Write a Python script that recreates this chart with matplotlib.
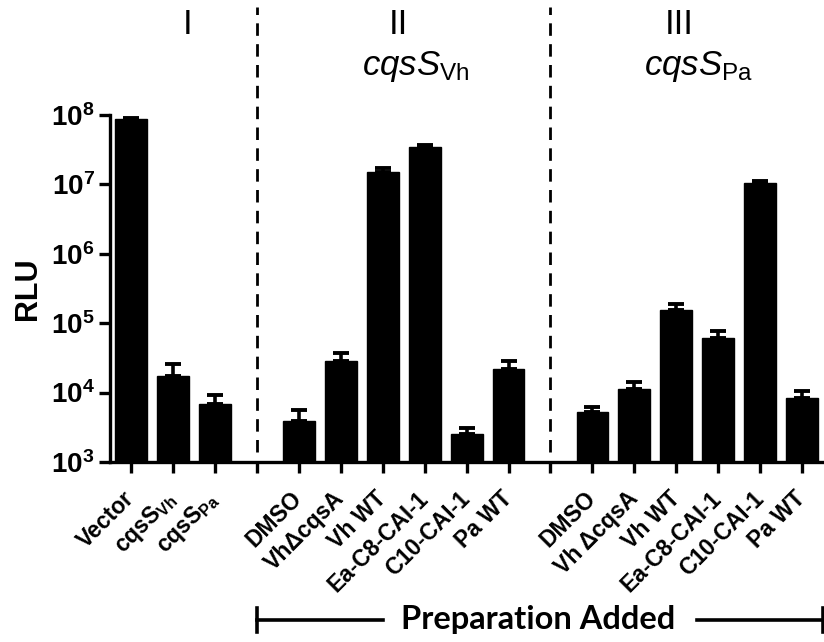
import numpy as np
import matplotlib
matplotlib.use("Agg")
import matplotlib.pyplot as plt
from matplotlib.transforms import blended_transform_factory

plt.rcParams['font.family'] = ['Liberation Sans', 'DejaVu Sans']
plt.rcParams['mathtext.fontset'] = 'custom'
plt.rcParams['mathtext.rm'] = 'Liberation Sans'
plt.rcParams['mathtext.it'] = 'Liberation Sans:italic'
plt.rcParams['mathtext.bf'] = 'Liberation Sans:bold'

# data
labels_I = ['Vector', r'cqsS$_{\mathbf{Vh}}$', r'cqsS$_{\mathbf{Pa}}$']
labels_II = ['DMSO', 'Vh\u0394cqsA', 'Vh WT', 'Ea-C8-CAI-1', 'C10-CAI-1', 'Pa WT']
labels_III = ['DMSO', 'Vh \u0394cqsA', 'Vh WT', 'Ea-C8-CAI-1', 'C10-CAI-1', 'Pa WT']

rlu_I = [8.7e7, 1.75e4, 6.8e3]
err_I = [3e6, 8.5e3, 2.5e3]
rlu_II = [3.9e3, 2.87e4, 1.5e7, 3.4e7, 2.5e3, 2.2e4]
err_II = [1.8e3, 8e3, 2.5e6, 2.5e6, 6e2, 6.7e3]
rlu_III = [5.3e3, 1.11e4, 1.57e5, 6.15e4, 1.05e7, 8.3e3]
err_III = [8e2, 2.9e3, 3.3e4, 1.45e4, 6e5, 2.1e3]

group_names = ['I', 'II', 'III']
group_sub = [None, r'$\mathit{cqsS}_{\mathrm{Vh}}$', r'$\mathit{cqsS}_{\mathrm{Pa}}$']
name_shift = [0.36, -0.12, -0.43]
sub_shift = [0.0, 0.29, 0.02]

# positions: groups separated by one empty slot
groups = [(labels_I, rlu_I, err_I), (labels_II, rlu_II, err_II), (labels_III, rlu_III, err_III)]
xs, vals, errs, labs, gap_pos, centers = [], [], [], [], [], []
pos = 0
for gi, (lab, v, e) in enumerate(groups):
    gx = list(range(pos, pos + len(lab)))
    centers.append(np.mean(gx))
    xs += gx
    vals += v
    errs += e
    labs += lab
    pos += len(lab)
    if gi < len(groups) - 1:
        gap_pos.append(pos)
        pos += 1

fig = plt.figure(figsize=(8.24, 6.42), dpi=100)
ax = fig.add_axes([0.1335, 0.2804, 0.8655, 0.5405])

ax.bar(xs, vals, width=0.76, color='black', edgecolor='black', zorder=2)
ax.errorbar(xs, vals, yerr=[np.zeros(len(errs)), errs], fmt='none', ecolor='black',
            elinewidth=2.6, capsize=5.5, capthick=2.8, zorder=3)

ax.set_yscale('log')
ax.set_ylim(1e3, 1e8)
ax.set_xlim(-0.5, pos - 0.5)
yt = [1e3, 1e4, 1e5, 1e6, 1e7, 1e8]
ax.set_yticks(yt)
ax.set_yticklabels([r'$\mathbf{10^{%d}}$' % int(np.log10(t)) for t in yt], fontsize=20)
ax.yaxis.set_minor_locator(matplotlib.ticker.NullLocator())

alltick = sorted(xs + gap_pos)
ax.set_xticks(alltick)
ticklabs = []
for t in alltick:
    ticklabs.append(labs[xs.index(t)] if t in xs else '')
ax.set_xticklabels(ticklabs, rotation=45, ha='right', va='center',
                   rotation_mode='anchor', fontsize=16.5, fontweight='bold')

for s in ['top', 'right']:
    ax.spines[s].set_visible(False)
for s in ['left', 'bottom']:
    ax.spines[s].set_linewidth(2.4)
ax.tick_params(axis='both', width=2.4, length=8, direction='out')
ax.tick_params(axis='x', pad=16)
ax.tick_params(axis='y', pad=3)

ax.set_ylabel('RLU', fontsize=22, fontweight='bold', labelpad=6)

# dashed separators, extending above the axes
trans = blended_transform_factory(ax.transData, ax.transAxes)
for g in gap_pos:
    ax.plot([g, g], [0.03, 1.31], transform=trans, color='black', lw=2,
            ls=(0, (4.5, 3)), clip_on=False, zorder=1)

# group headers
for c, name, sub, dn, ds in zip(centers, group_names, group_sub, name_shift, sub_shift):
    ax.text(c + dn, 1.262, name, transform=trans, ha='center', va='center', fontsize=25)
    if sub:
        ax.text(c + ds, 1.14, sub, transform=trans, ha='center', va='center', fontsize=25)

# bracket "Preparation Added"
yb = -0.455
x0, x1 = gap_pos[0], pos - 0.5
ax.plot([x0, 6.0], [yb, yb], transform=trans, color='black', lw=2.6, clip_on=False)
ax.plot([13.5, x1], [yb, yb], transform=trans, color='black', lw=2.6, clip_on=False)
ax.plot([x0, x0], [yb - 0.035, yb + 0.035], transform=trans, color='black', lw=2.6, clip_on=False)
ax.plot([x1, x1], [yb - 0.035, yb + 0.035], transform=trans, color='black', lw=2.6, clip_on=False)
ax.text(9.7, yb, 'Preparation Added', transform=trans, ha='center', va='center',
        fontsize=23.5, fontweight='bold', family=['Lato', 'DejaVu Sans'])

fig.savefig('out.png', dpi=100)
